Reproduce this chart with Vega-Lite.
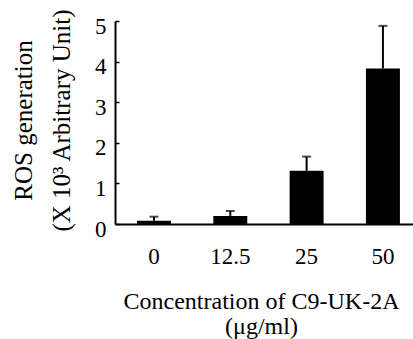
{
  "$schema": "https://vega.github.io/schema/vega-lite/v6.json",
  "width": 298,
  "height": 203,
  "autosize": {"type": "none"},
  "padding": {"left": 115, "top": 21, "right": 0, "bottom": 115},
  "background": "white",
  "config": {
    "view": {"stroke": null},
    "font": "Liberation Serif"
  },
  "data": {
    "values": [
      {"conc": "0", "mean": 0.08, "upper": 0.18},
      {"conc": "12.5", "mean": 0.2, "upper": 0.32},
      {"conc": "25", "mean": 1.31, "upper": 1.66},
      {"conc": "50", "mean": 3.83, "upper": 4.88}
    ]
  },
  "encoding": {
    "x": {
      "field": "conc",
      "type": "ordinal",
      "sort": null,
      "scale": {"paddingInner": 0.555, "paddingOuter": 0.23, "align": 0.627},
      "axis": {
        "title": ["Concentration of C9-UK-2A", "(μg/ml)"],
        "titleFont": "Liberation Serif",
        "titleFontSize": 24,
        "titleFontWeight": "normal",
        "titleColor": "black",
        "titleLineHeight": 25,
        "titleAlign": "center",
        "titleBaseline": "alphabetic",
        "titleX": 146,
        "titleY": 84,
        "labelAngle": 0,
        "labelFont": "Liberation Serif",
        "labelFontSize": 23,
        "labelColor": "black",
        "labelBaseline": "alphabetic",
        "labelPadding": 39,
        "ticks": false,
        "tickSize": 0,
        "domainColor": "black",
        "domainWidth": 2
      }
    }
  },
  "layer": [
    {
      "mark": {"type": "rule", "color": "black", "strokeWidth": 2},
      "encoding": {
        "y": {"field": "mean", "type": "quantitative"},
        "y2": {"field": "upper"}
      }
    },
    {
      "mark": {"type": "tick", "color": "black", "thickness": 2, "size": 9, "orient": "horizontal"},
      "encoding": {
        "y": {"field": "upper", "type": "quantitative"}
      }
    },
    {
      "mark": {"type": "bar", "color": "black"},
      "encoding": {
        "y": {
          "field": "mean",
          "type": "quantitative",
          "scale": {"domain": [0, 5], "nice": false},
          "axis": {
            "title": ["ROS generation", "(X 10³ Arbitrary Unit)"],
            "titleFont": "Liberation Serif",
            "titleFontSize": 25,
            "titleFontWeight": "normal",
            "titleColor": "black",
            "titleLineHeight": 38,
            "titleAngle": -90,
            "titleAlign": "center",
            "titleBaseline": "alphabetic",
            "titleX": -84,
            "titleY": 99,
            "values": [0, 1, 2, 3, 4, 5],
            "grid": false,
            "labelFont": "Liberation Serif",
            "labelFontSize": 23,
            "labelColor": "black",
            "labelBaseline": "middle",
            "labelOffset": 5,
            "labelPadding": 13,
            "tickSize": -4,
            "tickColor": "black",
            "tickWidth": 1.5,
            "domainColor": "black",
            "domainWidth": 2
          }
        }
      }
    }
  ]
}
